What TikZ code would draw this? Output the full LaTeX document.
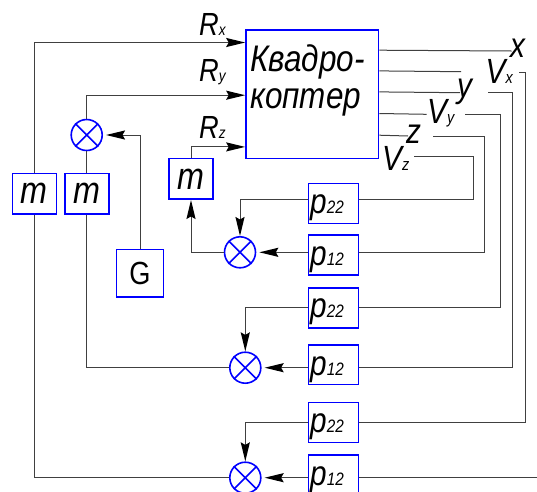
\documentclass[tikz,border=0pt]{standalone}
\usepackage{fontspec}
\newfontfamily\gost{Liberation Sans}[FakeStretch=0.85]
\usetikzlibrary{arrows.meta}
\newcommand\fsz[1]{\fontsize{#1}{#1}\selectfont}
\begin{document}
\begin{tikzpicture}[x=1pt,y=-1pt,
  blk/.style={draw=blue, line width=1.6pt, rectangle, inner sep=0pt},
  sumc/.style={draw=blue, line width=1.6pt, circle, minimum size=31pt, inner sep=0pt},
  wire/.style={draw=black!75, line width=1pt},
  arr/.style={-{Stealth[length=19pt,width=9pt,inset=2.5pt,black,line width=1.6pt]}},
  gap/.style={shorten >=3pt},
  lbl/.style={inner sep=0pt, anchor=base west, font=\gost\itshape},
  pbox/.style={blk, minimum width=50pt, minimum height=40pt},
  mbox/.style={blk, minimum width=44pt, minimum height=40.7pt, font=\gost\itshape\fsz{38}}]
\useasboundingbox[fill=white] (0,0) rectangle (537,491);

% main block
\node[blk, minimum width=132.5pt, minimum height=128.5pt] (quad) at (312.25,94.25) {};
\node[lbl, font=\gost\itshape\fsz{37}] (q1) at (250,71.7) {Квадро-};
\node[lbl, font=\gost\itshape\fsz{37}] (q2) at (250,108.3) {коптер};

% m and G blocks
\node[mbox] (m1) at (34.3,193.7) {m};
\node[mbox] (m2) at (86.7,193.7) {m};
\node[mbox] (m3) at (191,178.8) {m};
\node[blk, minimum width=47pt, minimum height=47.4pt, font=\gost\fsz{32}] (G) at (140,273) {G};

% p blocks
\node[pbox] (p22a) at (333.3,203.3) {};
\node[pbox] (p12a) at (333.3,255) {};
\node[pbox] (p22b) at (333.3,307.7) {};
\node[pbox, minimum height=39.3pt] (p12b) at (333.3,364.7) {};
\node[pbox] (p22c) at (333.3,422.5) {};
\node[pbox] (p12c) at (333.3,475) {};
\node[lbl] (t22a) at (310,213.3) {\fsz{35}p\fsz{18}22};
\node[lbl] (t12a) at (310,265) {\fsz{35}p\fsz{18}12};
\node[lbl] (t22b) at (310,317.7) {\fsz{35}p\fsz{18}22};
\node[lbl] (t12b) at (310,375) {\fsz{35}p\fsz{18}12};
\node[lbl] (t22c) at (310,432.7) {\fsz{35}p\fsz{18}22};
\node[lbl] (t12c) at (310,485) {\fsz{35}p\fsz{18}12};

% summing junctions
\node[sumc] (c0) at (86.7,135) {};
\node[sumc] (c1) at (240,252.3) {};
\node[sumc] (c2) at (245.3,367.7) {};
\node[sumc] (c3) at (245.3,477.7) {};
\foreach \c in {c0,c1,c2,c3}
  \draw[blue, line width=1.6pt] (\c.north west) -- (\c.south east) (\c.north east) -- (\c.south west);

% ports of the main block
\coordinate (inRx) at ([yshift=-13.3pt]quad.north west);
\coordinate (inRy) at ([yshift=-66pt]quad.north west);
\coordinate (inRz) at ([yshift=-117.7pt]quad.north west);
\coordinate (oX)  at ([yshift=-21pt]quad.north east);
\coordinate (oVx) at ([yshift=-41.7pt]quad.north east);
\coordinate (oY)  at ([yshift=-62.7pt]quad.north east);
\coordinate (oVy) at ([yshift=-84.3pt]quad.north east);
\coordinate (oZ)  at ([yshift=-106pt]quad.north east);

% labels
\node[lbl] (lRx) at (199,35)   {\fsz{32}R\fsz{16}x};
\node[lbl] (lRy) at (199,81.7) {\fsz{32}R\fsz{16}y};
\node[lbl] (lRz) at (199,138)  {\fsz{32}R\fsz{16}z};
\node[lbl] (lx)  at (510,57)   {\fsz{35}x};
\node[lbl] (lVx) at (485.5,83.3) {\fsz{35}V\fsz{17}x};
\node[lbl] (ly)  at (457,97.6) {\fsz{35}y};
\node[lbl] (lVy) at (427,123)  {\fsz{35}V\fsz{17}y};
\node[lbl] (lz)  at (406,143.3) {\fsz{35}z};
\node[lbl] (lVz) at (382,170)  {\fsz{35}V\fsz{17}z};

% free ends of output lines
\coordinate (xA) at (511.7,51);
\coordinate (vxA) at (461,71.7);   \coordinate (vxB) at (519.3,72.7); \coordinate (vxC) at (525.7,72.7);
\coordinate (yA) at (460,92.7);    \coordinate (yB) at (488.3,92.7);  \coordinate (yC) at (512.3,92.7);
\coordinate (vyA) at (426.7,114.3); \coordinate (vyB) at (465,114.3); \coordinate (vyC) at (500,114.3);
\coordinate (zA) at (408,136);     \coordinate (zB) at (433,136);     \coordinate (zC) at (484.5,136);
\coordinate (vzA) at (414.3,156.7); \coordinate (vzC) at (473.3,156.7);
\coordinate (xout) at (537,477.7);

% left part wiring
\draw[wire] (c3.west) -| (m1.south);
\draw[wire,arr] (m1.north) |- (inRx);
\draw[wire] (c0.south) -- (m2.north);
\draw[wire,arr] (c0.north) |- (inRy);
\draw[wire] (m2.south) |- (c2.west);
\draw[wire,arr,gap] (G.north) |- (c0.east);
\draw[wire,arr] (m3.north) |- (inRz);
\draw[wire,arr] (c1.west) -| (m3.south);

% p blocks to junctions
\draw[wire,arr] ([yshift=4pt]p22a.west) -| (c1.north);
\draw[wire,arr,gap] (p12a.west |- c1.east) -- (c1.east);
\draw[wire,arr] (p22b.west) -| (c2.north);
\draw[wire,arr,gap] (p12b.west |- c2.east) -- (c2.east);
\draw[wire,arr] (p22c.west) -| (c3.north);
\draw[wire,arr,gap] (p12c.west |- c3.east) -- (c3.east);

% outputs to p blocks
\draw[wire] (oX) -- (xA);
\draw[wire] (oVx) -- (vxA);
\draw[wire] (vxB) -- (vxC) |- (p22c.east);
\draw[wire] (oY) -- (yA);
\draw[wire] (yB) -- (yC) |- (p12b.east |- c2.east);
\draw[wire] (oVy) -- (vyA);
\draw[wire] (vyB) -- (vyC) |- (p22b.east);
\draw[wire] (oZ) -- (zA);
\draw[wire] (zB) -- (zC) |- (p12a.east |- c1.east);
\draw[wire] (vzA) -- (vzC) |- ([yshift=4pt]p22a.east);
\draw[wire] (p12c.east |- c3.east) -- (xout);
\end{tikzpicture}
\end{document}
